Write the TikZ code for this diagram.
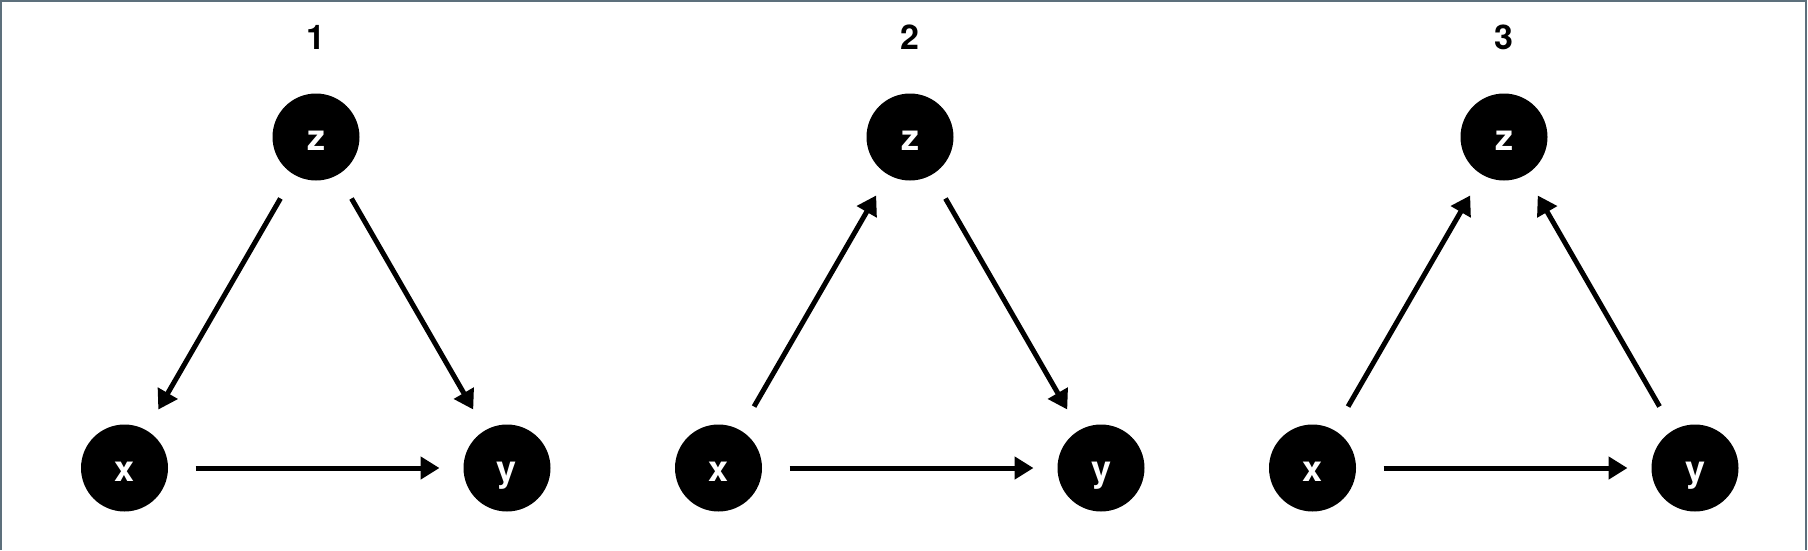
\documentclass[tikz,border=0pt]{standalone}
\usepackage{fontspec}
\setmainfont{TeX Gyre Heros}
\usetikzlibrary{arrows.meta}
\definecolor{framecol}{RGB}{93,112,124}
\begin{document}
\begin{tikzpicture}[x=1pt,y=-1pt,
  var/.style={circle,fill=black,minimum size=87pt,inner sep=0pt,outer sep=0pt,
    text=white,text height=27pt,text depth=0pt,font=\fontsize{36}{43}\selectfont\bfseries},
  ttl/.style={inner sep=0pt,font=\fontsize{34}{40}\selectfont\bfseries},
  edge/.style={line width=5pt,-{Triangle[length=19pt,width=22pt]},
    shorten <=27.5pt,shorten >=24pt}]
\useasboundingbox (0,0) rectangle (1808,550);
\draw[framecol,line width=2pt] (1,550) -- (1,1) -- (1806,1) -- (1806,550);
\foreach \k in {1,2,3}{
  \pgfmathsetmacro{\dx}{594*(\k-1)}
  \node[ttl] (t\k) at (316+\dx,37) {\k};
  \node[var] (z\k) at (316+\dx,137) {z};
  \node[var] (x\k) at (124.5+\dx,468) {x};
  \node[var] (y\k) at (507+\dx,468) {y};
  \draw[edge] (x\k) -- (y\k);
}
\draw[edge] (z1) -- (x1);
\draw[edge] (z1) -- (y1);
\draw[edge] (x2) -- (z2);
\draw[edge] (z2) -- (y2);
\draw[edge] (x3) -- (z3);
\draw[edge] (y3) -- (z3);
\end{tikzpicture}
\end{document}
